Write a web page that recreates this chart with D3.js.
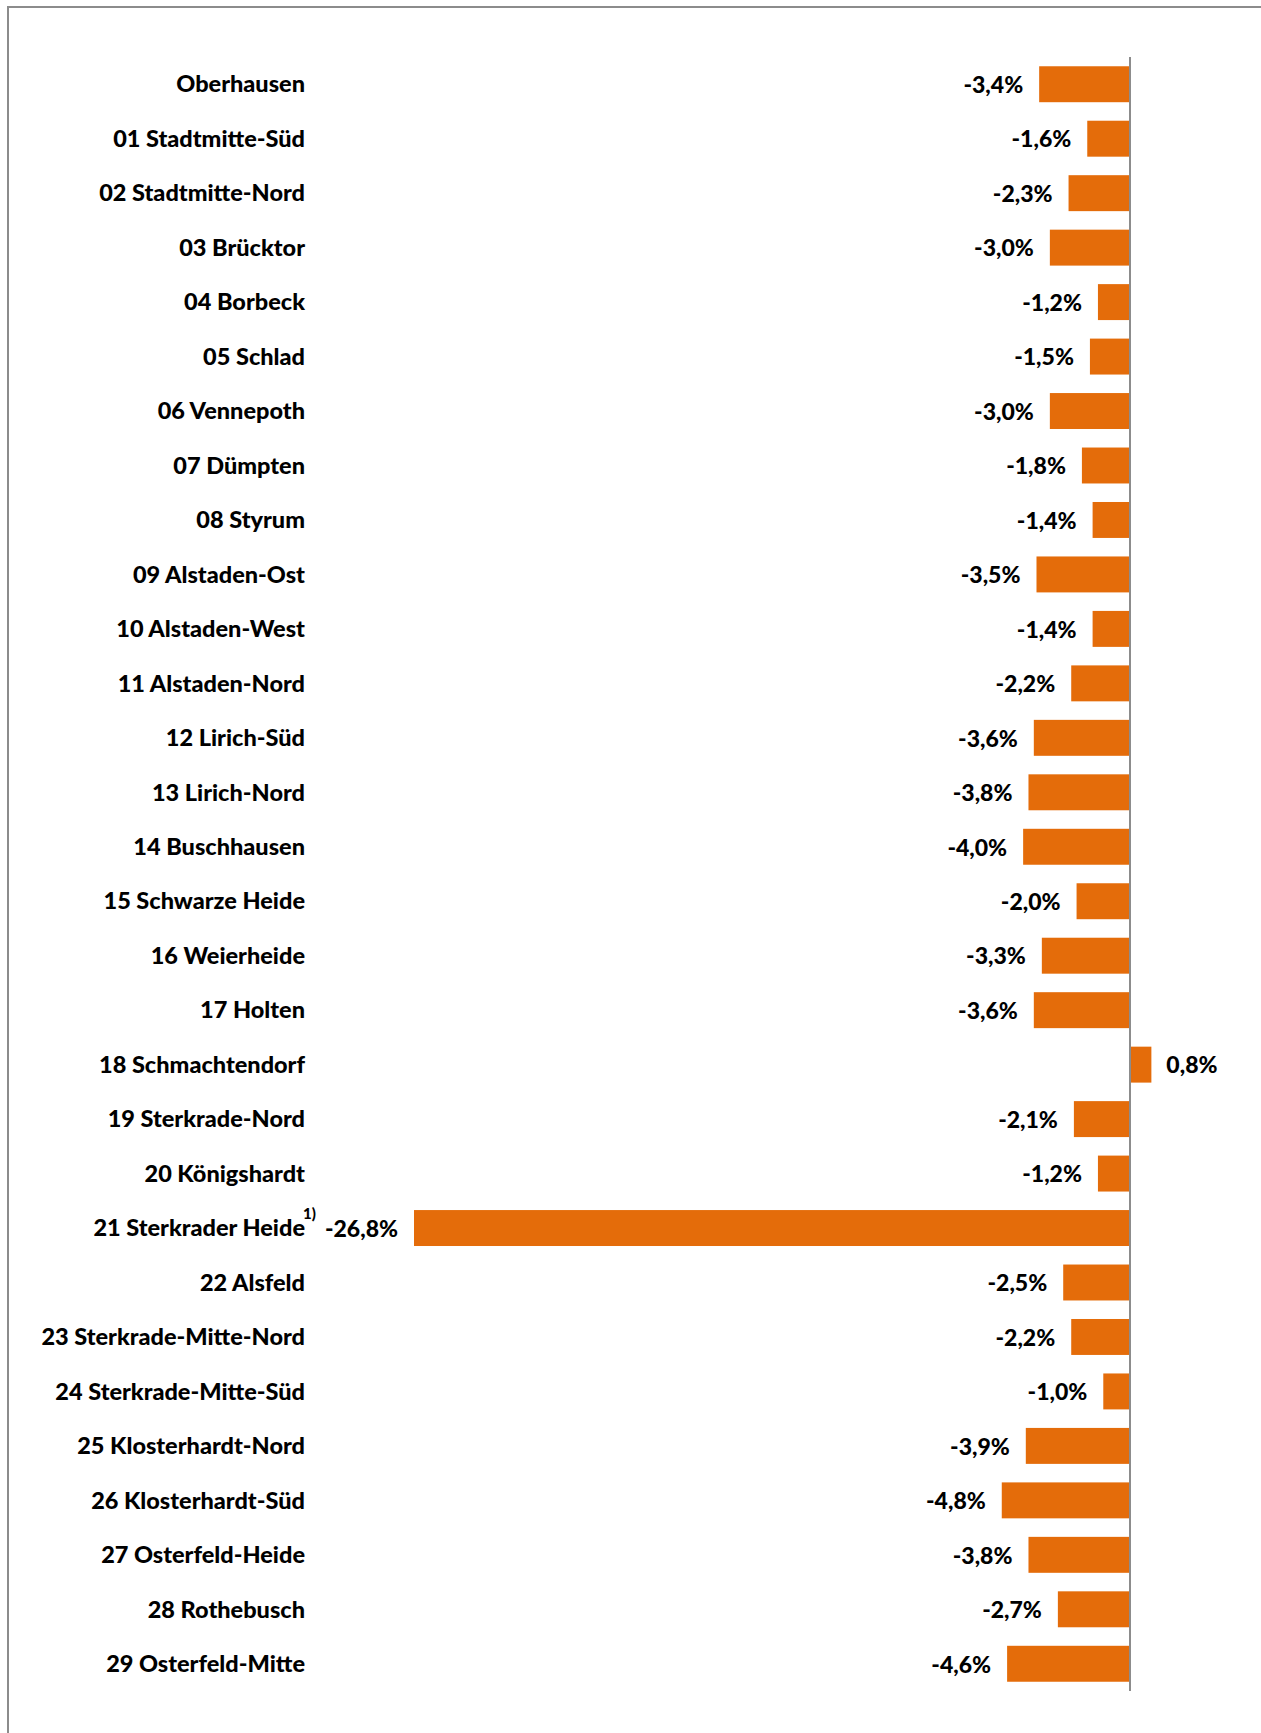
<!DOCTYPE html>
<html>
<head>
<meta charset="utf-8">
<script src="https://cdnjs.cloudflare.com/ajax/libs/d3/7.8.5/d3.min.js"></script>
<style>
  html, body { margin: 0; padding: 0; background: #fff; }
  svg { display: block; }
  .lbl { font-family: Lato, "Open Sans", sans-serif; font-weight: bold; fill: #000; }
</style>
</head>
<body>
<div id="chart"></div>
<script>
// districts (top to bottom)
var districts = ["Oberhausen", "01 Stadtmitte-Süd", "02 Stadtmitte-Nord", "03 Brücktor",
  "04 Borbeck", "05 Schlad", "06 Vennepoth", "07 Dümpten", "08 Styrum",
  "09 Alstaden-Ost", "10 Alstaden-West", "11 Alstaden-Nord", "12 Lirich-Süd",
  "13 Lirich-Nord", "14 Buschhausen", "15 Schwarze Heide", "16 Weierheide",
  "17 Holten", "18 Schmachtendorf", "19 Sterkrade-Nord", "20 Königshardt",
  "21 Sterkrader Heide", "22 Alsfeld", "23 Sterkrade-Mitte-Nord",
  "24 Sterkrade-Mitte-Süd", "25 Klosterhardt-Nord", "26 Klosterhardt-Süd",
  "27 Osterfeld-Heide", "28 Rothebusch", "29 Osterfeld-Mitte"];
// change in percent
var change = [-3.4, -1.6, -2.3, -3.0, -1.2, -1.5, -3.0, -1.8, -1.4, -3.5, -1.4, -2.2,
  -3.6, -3.8, -4.0, -2.0, -3.3, -3.6, 0.8, -2.1, -1.2, -26.8, -2.5, -2.2, -1.0,
  -3.9, -4.8, -3.8, -2.7, -4.6];
// footnote marks on labels
var footnotes = {"21 Sterkrader Heide": "1)"};

var W = 1261, H = 1733;
var svg = d3.select("#chart").append("svg").attr("width", W).attr("height", H);

// frame (runs off the right and bottom)
svg.append("path")
  .attr("d", "M8," + (H + 5) + "V7H" + (W + 5))
  .attr("fill", "none").attr("stroke", "#8c8c8c").attr("stroke-width", 2);

var x = d3.scaleLinear().domain([-26.8, 0]).range([414, 1130]);
var y = d3.scaleBand().domain(districts).range([57, 1691]).paddingInner(0.34).paddingOuter(0.17);

var fmt = function(v) { return d3.format(".1f")(v).replace(".", ",").replace("−", "-") + "%"; };

svg.selectAll("rect.bar").data(districts).enter().append("rect")
  .attr("class", "bar")
  .attr("x", function(d, i) { return Math.min(x(change[i]), x(0)); })
  .attr("y", function(d) { return y(d); })
  .attr("width", function(d, i) { return Math.abs(x(change[i]) - x(0)); })
  .attr("height", y.bandwidth())
  .attr("fill", "#e46c0a");

// zero line
svg.append("line")
  .attr("x1", x(0)).attr("x2", x(0))
  .attr("y1", 57).attr("y2", 1691)
  .attr("stroke", "#8c8c8c").attr("stroke-width", 2);

// category labels
svg.selectAll("text.cat").data(districts).enter().append("text")
  .attr("class", "lbl cat")
  .attr("x", 305)
  .attr("y", function(d) { return y(d) + y.bandwidth() / 2; })
  .attr("dy", "0.35em")
  .attr("text-anchor", "end")
  .style("font-size", "23.5px")
  .style("font-weight", 900)
  .text(function(d) { return d; });

// footnote superscripts
svg.selectAll("text.fn").data(districts.filter(function(d) { return footnotes[d]; })).enter().append("text")
  .attr("class", "lbl fn")
  .attr("x", 303)
  .attr("y", function(d) { return y(d) + y.bandwidth() / 2 - 9; })
  .style("font-size", "15px")
  .style("font-weight", 900)
  .text(function(d) { return footnotes[d]; });

// value labels
svg.selectAll("text.val").data(districts).enter().append("text")
  .attr("class", "lbl val")
  .attr("x", function(d, i) { return change[i] < 0 ? x(change[i]) - 16 : x(change[i]) + 15; })
  .attr("y", function(d) { return y(d) + y.bandwidth() / 2; })
  .attr("dy", "0.38em")
  .attr("text-anchor", function(d, i) { return change[i] < 0 ? "end" : "start"; })
  .style("font-size", "23px")
  .style("font-weight", 900)
  .text(function(d, i) { return fmt(change[i]); });
</script>
</body>
</html>
